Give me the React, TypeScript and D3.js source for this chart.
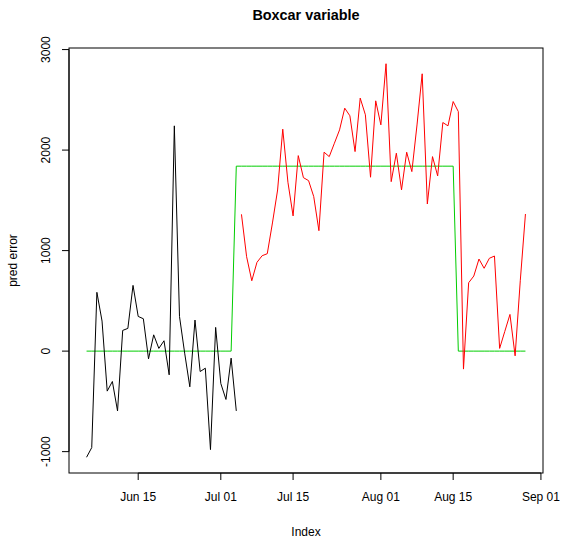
import React from "react";
import * as d3 from "d3";

// first day of the series (daily index)
const startDay = Date.UTC(2015, 5, 5);

// black: observed part before the boxcar
const beforeErr = [
  -1056, -960, 585, 299, -398, -302, -595, 206, 226, 654,
  345, 322, -77, 162, 27, 103, -236, 2241, 345, -20,
  -355, 309, -203, -170, -980, 236, -322, -481, -70, -595,
];

// red: part after the boxcar starts
const afterErr = [
  1361, 939, 700, 883, 949, 969, 1275, 1603, 2208, 1680,
  1345, 1945, 1726, 1696, 1537, 1198, 1979, 1935, 2068, 2201,
  2417, 2341, 1985, 2517, 2351, 1730, 2490, 2251, 2859, 1686,
  1969, 1604, 1979, 1786, 2250, 2759, 1464, 1935, 1743, 2274,
  2241, 2483, 2383, -179, 680, 747, 916, 824, 923, 946,
  27, 196, 365, -47, 700, 1364,
];

// green boxcar: level and number of days at that level
const boxLevels = [0, 1840, 0];
const boxDays = [29, 43, 14];

const yTicks = [-1000, 0, 1000, 2000, 3000];
const xTickDates = ["2015-06-15", "2015-07-01", "2015-07-15", "2015-08-01", "2015-08-15", "2015-09-01"];

const W = 564, H = 538;
const left = 69, right = 543, top = 48, bottom = 473;

export default function App() {
  const allErr = beforeErr.concat(afterErr);
  const days = allErr.map((_, i) => new Date(startDay + i * 86400000));
  const boxcar: number[] = [];
  boxLevels.forEach((lv, k) => { for (let j = 0; j < boxDays[k]; j++) boxcar.push(lv); });

  const xExt = d3.extent(days) as [Date, Date];
  const xPad = (+xExt[1] - +xExt[0]) * 0.04;
  const x = d3.scaleUtc()
    .domain([new Date(+xExt[0] - xPad), new Date(+xExt[1] + xPad)])
    .range([left, right]);

  const yExt = d3.extent(allErr.concat(boxcar)) as [number, number];
  const yPad = (yExt[1] - yExt[0]) * 0.04;
  const y = d3.scaleLinear().domain([yExt[0] - yPad, yExt[1] + yPad]).range([bottom, top]);

  const line = d3.line<[Date, number]>().x(d => x(d[0])).y(d => y(d[1]));
  const blackPts = beforeErr.map((v, i) => [days[i], v] as [Date, number]);
  const redPts = afterErr.map((v, i) => [days[i + beforeErr.length], v] as [Date, number]);
  const greenPts = boxcar.map((v, i) => [days[i], v] as [Date, number]);

  const xt = xTickDates.map(s => new Date(s + "T00:00:00Z"));
  const fmt = d3.utcFormat("%b %d");
  const font = "Liberation Sans, Arial, Helvetica, sans-serif";

  return (
    <svg width={W} height={H} style={{ position: "fixed", left: 0, top: 0 }} fontFamily={font}>
      <rect x={0} y={0} width={W} height={H} fill="#fff" />
      <text x={(left + right) / 2} y={20} textAnchor="middle" fontWeight="bold" fontSize={14.4}>Boxcar variable</text>
      <path d={line(greenPts) || ""} fill="none" stroke="#00CD00" strokeWidth={1} />
      <path d={line(blackPts) || ""} fill="none" stroke="#000" strokeWidth={1} />
      <path d={line(redPts) || ""} fill="none" stroke="#FF0000" strokeWidth={1} />
      <rect x={left} y={top} width={right - left} height={bottom - top} fill="none" stroke="#000" strokeWidth={1} />
      {/* y axis */}
      <line x1={left} x2={left} y1={y(yTicks[0])} y2={y(yTicks[yTicks.length - 1])} stroke="#000" />
      {yTicks.map(t => (
        <g key={t}>
          <line x1={left - 7} x2={left} y1={y(t)} y2={y(t)} stroke="#000" />
          <text transform={`translate(50,${y(t)}) rotate(-90)`} textAnchor="middle" fontSize={12}>{t}</text>
        </g>
      ))}
      {/* x axis */}
      <line x1={x(xt[0])} x2={x(xt[xt.length - 1])} y1={bottom} y2={bottom} stroke="#000" />
      {xt.map((t, i) => (
        <g key={i}>
          <line x1={x(t)} x2={x(t)} y1={bottom} y2={bottom + 7} stroke="#000" />
          <text x={x(t)} y={501} textAnchor="middle" fontSize={12}>{fmt(t)}</text>
        </g>
      ))}
      <text x={(left + right) / 2} y={536} textAnchor="middle" fontSize={12}>Index</text>
      <text transform={`translate(17,${(top + bottom) / 2}) rotate(-90)`} textAnchor="middle" fontSize={12}>pred error</text>
    </svg>
  );
}
